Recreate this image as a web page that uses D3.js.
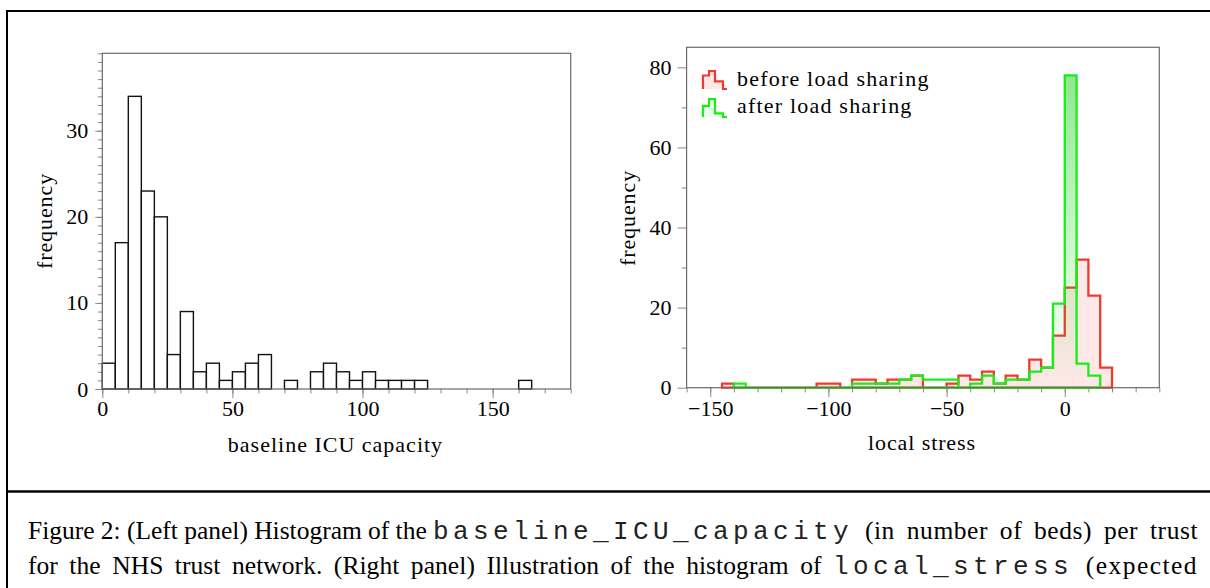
<!DOCTYPE html>
<html><head><meta charset="utf-8">
<script src="https://cdn.jsdelivr.net/npm/d3@7"></script>
<style>body{margin:0;background:#fff}svg{display:block}</style>
</head><body>
<svg id="fig" width="1210" height="588"></svg>
<script>
// ---------------- DATA ----------------
const capacityBinWidth = 5;
const capacityBins   = [0,5,10,15,20,25,30,35,40,45,50,55,60,65,70,75,80,85,90,95,100,105,110,115,120,125,130,135,140,145,150,155,160];
const capacityCounts = [3,17,34,23,20,4,9,2,3,1,2,3,4,0,1,0,2,3,2,1,2,1,1,1,1,0,0,0,0,0,0,0,1];

const stressBinWidth = 5;
const stressBins   = [-145,-140,-135,-130,-125,-120,-115,-110,-105,-100,-95,-90,-85,-80,-75,-70,-65,-60,-55,-50,-45,-40,-35,-30,-25,-20,-15,-10,-5,0,5,10,15];
const stressBefore = [1,0,0,0,0,0,0,0,1,1,0,2,2,1,2,2,3,0,0,1,3,2,4,1,3,2,7,5,13,25,32,23,5];
const stressAfter  = [0,1,0,0,0,0,0,0,0,0,0,1,1,1,1,2,3,2,2,2,0,1,3,1,2,2,4,5,21,78,6,3,0];

const leftXTicks  = [0,50,100,150];
const leftYTicks  = [0,10,20,30];
const rightXTicks = [-150,-100,-50,0];
const rightYTicks = [0,20,40,60,80];
const legendLabels = ["before load sharing","after load sharing"];

// ---------------- SETUP ----------------
const svg = d3.select("#fig");
const SERIF = "'Liberation Serif', 'Times New Roman', serif";
const MONO  = "'Liberation Mono', 'Courier New', monospace";
const frameColor = "#6a6a6a", tickColor = "#888";

svg.append("path").attr("d","M7,1200 V11 H1210").attr("fill","none").attr("stroke","#000").attr("stroke-width",2);
svg.append("line").attr("x1",7).attr("x2",1210).attr("y1",491.5).attr("y2",491.5).attr("stroke","#000").attr("stroke-width",2.5);

function styleAxis(g, fontSize){
  g.select(".domain").remove();
  g.selectAll(".tick line").attr("stroke",tickColor).attr("stroke-width",1);
  g.selectAll(".tick text").attr("font-family",SERIF).attr("font-size",fontSize).attr("fill","#000");
}

// ---------------- LEFT PANEL ----------------
const L = {x0:102.3, x1:570.7, y0:53.3, y1:389};
const xL = d3.scaleLinear().domain([0,180]).range([L.x0,L.x1]);
const yL = d3.scaleLinear().domain([0,39]).range([L.y1,L.y0]);
const gL = svg.append("g");

gL.append("g").attr("transform",`translate(0,${L.y1})`)
  .call(d3.axisBottom(xL).tickValues(d3.range(0,181,10)).tickSize(4.5).tickFormat(""))
  .call(g=>styleAxis(g,22));
gL.append("g").attr("transform",`translate(${L.x0},0)`)
  .call(d3.axisLeft(yL).tickValues(d3.range(0,40,1)).tickSize(4.5).tickFormat(""))
  .call(g=>styleAxis(g,22));
gL.append("g").attr("transform",`translate(0,${L.y1})`)
  .call(d3.axisBottom(xL).tickValues(leftXTicks).tickSize(9).tickPadding(2).tickFormat(d3.format("d")))
  .call(g=>styleAxis(g,22));
gL.append("g").attr("transform",`translate(${L.x0},0)`)
  .call(d3.axisLeft(yL).tickValues(leftYTicks).tickSize(7).tickPadding(7).tickFormat(d3.format("d")))
  .call(g=>styleAxis(g,22));

gL.append("g").selectAll("rect")
  .data(capacityBins.map((b,i)=>({b, c:capacityCounts[i]})).filter(d=>d.c>0))
  .join("rect")
  .attr("x",d=>xL(d.b)).attr("width",d=>xL(d.b+capacityBinWidth)-xL(d.b))
  .attr("y",d=>yL(d.c)).attr("height",d=>yL(0)-yL(d.c))
  .attr("fill","#fff").attr("stroke","#111").attr("stroke-width",1.4);

gL.append("rect").attr("x",L.x0).attr("y",L.y0).attr("width",L.x1-L.x0).attr("height",L.y1-L.y0)
  .attr("fill","none").attr("stroke",frameColor).attr("stroke-width",1.2);

gL.append("text").attr("x",(L.x0+L.x1)/2-1).attr("y",452).attr("text-anchor","middle")
  .attr("font-family",SERIF).attr("font-size",22).attr("letter-spacing",1).text("baseline ICU capacity");
gL.append("text").attr("transform",`translate(52,221) rotate(-90)`).attr("text-anchor","middle")
  .attr("font-family",SERIF).attr("font-size",22).attr("letter-spacing",0.9).text("frequency");

// ---------------- RIGHT PANEL ----------------
const R = {x0:686.6, x1:1159.3, y0:47.3, y1:387.7};
const xR = d3.scaleLinear().domain([-160,40]).range([R.x0,R.x1]);
const yR = d3.scaleLinear().domain([0,85]).range([R.y1,R.y0]);
const gR = svg.append("g");

const defs = svg.append("defs");
const grad = defs.append("linearGradient").attr("id","greenGrad")
  .attr("gradientUnits","userSpaceOnUse").attr("x1",0).attr("x2",0).attr("y1",yR(80)).attr("y2",yR(0));
grad.append("stop").attr("offset","0%").attr("stop-color","rgb(0,195,0)").attr("stop-opacity",0.44);
grad.append("stop").attr("offset","100%").attr("stop-color","rgb(0,220,0)").attr("stop-opacity",0.0);

gR.append("g").attr("transform",`translate(0,${R.y1})`)
  .call(d3.axisBottom(xR).tickValues(d3.range(-160,41,10)).tickSize(4.7).tickFormat(""))
  .call(g=>styleAxis(g,22));
gR.append("g").attr("transform",`translate(${R.x0},0)`)
  .call(d3.axisLeft(yR).tickValues(d3.range(10,81,20)).tickSize(5).tickFormat(""))
  .call(g=>styleAxis(g,22));
gR.append("g").attr("transform",`translate(0,${R.y1})`)
  .call(d3.axisBottom(xR).tickValues(rightXTicks).tickSize(9.5).tickPadding(3.5))
  .call(g=>styleAxis(g,22));
gR.append("g").attr("transform",`translate(${R.x0},0)`)
  .call(d3.axisLeft(yR).tickValues(rightYTicks).tickSize(9).tickPadding(6))
  .call(g=>styleAxis(g,22));

function stepPoints(bins, counts, w){
  const nz = counts.map((c,i)=>c>0?i:-1).filter(i=>i>=0);
  const a = nz[0], b = nz[nz.length-1];
  const pts = [[bins[a],0]];
  for(let i=a;i<=b;i++){ pts.push([bins[i],counts[i]]); pts.push([bins[i]+w,counts[i]]); }
  pts.push([bins[b]+w,0]);
  return pts;
}
const stepLine = d3.line().x(d=>xR(d[0])).y(d=>yR(d[1]));

gR.append("path").attr("d",stepLine(stepPoints(stressBins,stressBefore,stressBinWidth))+"Z")
  .attr("fill","rgba(255,0,0,0.09)").attr("stroke","rgb(240,58,46)").attr("stroke-width",2.3).attr("stroke-linejoin","miter");
gR.append("path").attr("d",stepLine(stepPoints(stressBins,stressAfter,stressBinWidth))+"Z")
  .attr("fill","url(#greenGrad)").attr("stroke","rgb(24,238,24)").attr("stroke-width",2.3).attr("stroke-linejoin","miter");

gR.append("rect").attr("x",R.x0).attr("y",R.y0).attr("width",R.x1-R.x0).attr("height",R.y1-R.y0)
  .attr("fill","none").attr("stroke",frameColor).attr("stroke-width",1.2);

const legendStyles = [
  {stroke:"rgb(240,58,46)", fill:"rgba(255,0,0,0.09)", y:70, h:[0.75,1,0.42]},
  {stroke:"rgb(24,238,24)", fill:"rgba(0,220,0,0.08)", y:98, h:[0.62,1,0.2]}
];
legendStyles.forEach((s,i)=>{
  const x0=703, w=24, H=18, yb=s.y+H+1;
  const d = `M${x0},${yb} V${yb-H*s.h[0]} H${x0+6} V${yb-H*s.h[1]} H${x0+12} V${yb-H*s.h[2]} H${x0+20} V${yb} H${x0+w}`;
  gR.append("path").attr("d",d).attr("fill",s.fill).attr("stroke",s.stroke).attr("stroke-width",2.2);
  gR.append("text").attr("x",737).attr("y",i===0?86:113)
    .attr("font-family",SERIF).attr("font-size",22).attr("letter-spacing",1.2).text(legendLabels[i]);
});

gR.append("text").attr("x",922).attr("y",450).attr("text-anchor","middle")
  .attr("font-family",SERIF).attr("font-size",22).attr("letter-spacing",0.9).text("local stress");
gR.append("text").attr("transform",`translate(635,218) rotate(-90)`).attr("text-anchor","middle")
  .attr("font-family",SERIF).attr("font-size",22).attr("letter-spacing",0.9).text("frequency");

// ---------------- CAPTION ----------------
const captionLines = [
  {y:539, monoStart:433, segs:[["s","Figure 2: (Left panel) Histogram of the "],["m","baseline_ICU_capacity"],["s"," (in number of beds) per trust"]]},
  {y:574, monoStart:833, segs:[["s","for the NHS trust network. (Right panel) Illustration of the histogram of "],["m","local_stress"],["s"," (expected"]]}
];
const capLeft = 28, capRight = 1198;
function fitSpan(ts, str, target){
  const w = ts.node().getComputedTextLength();
  const n = (str.match(/ /g)||[]).length;
  const extra = target - w;
  let ws = extra / n;
  if (ws > 5) ws = 5;
  const ls = (extra - ws*n) / str.length;
  ts.attr("word-spacing", ws).attr("letter-spacing", ls);
}
captionLines.forEach(line=>{
  const t = svg.append("text").attr("x",capLeft).attr("y",line.y).style("white-space","pre");
  const spans = line.segs.map(([k,str])=>{
    const ts = t.append("tspan").text(str);
    if(k==="s") ts.attr("font-family",SERIF).attr("font-size",25.5);
    else ts.attr("font-family",MONO).attr("font-size",26).attr("letter-spacing",4.4).attr("fill","#222");
    return {k,str,ts};
  });
  const [s1,m,s3] = spans;
  const wm = m.ts.node().getComputedTextLength();
  fitSpan(s1.ts, s1.str, line.monoStart-capLeft);
  fitSpan(s3.ts, s3.str, capRight-(line.monoStart+wm));
});
</script>
</body></html>
